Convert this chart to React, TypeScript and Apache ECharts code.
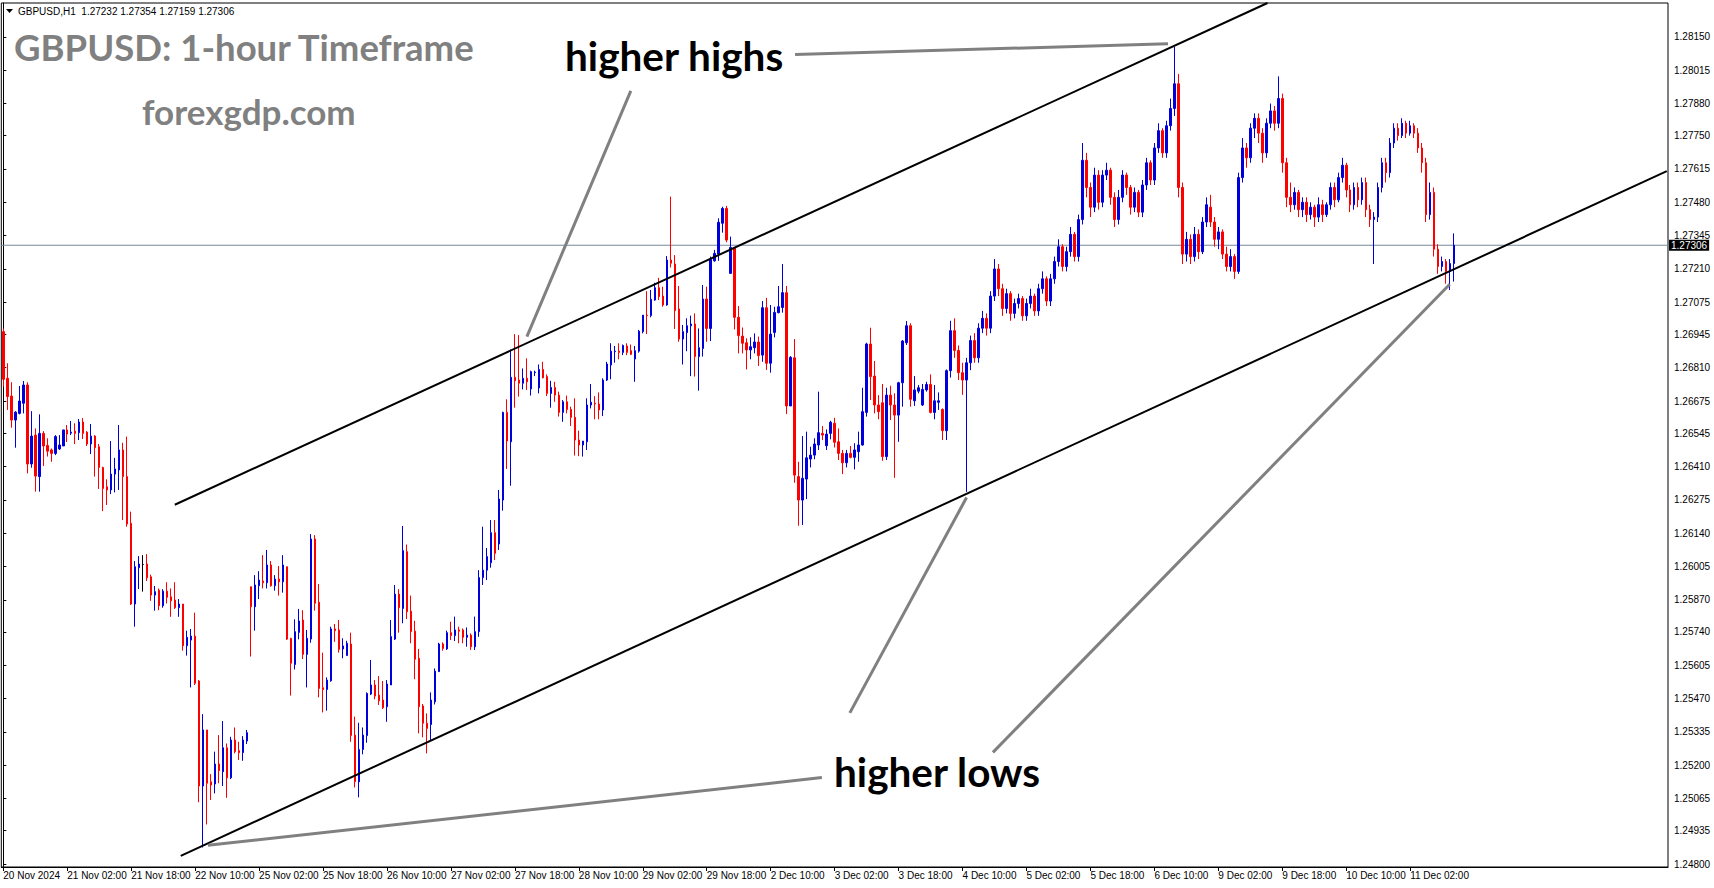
import React, { useEffect, useRef } from "react";
import * as echarts from "echarts";

// GBPUSD H1 bars, one row per hour: [open, high, low, close]
const WEEK_NOV20: number[][] = [
  [1.26956,1.26969,1.26733,1.26763],[1.26767,1.26828,1.26639,1.26693],[1.26695,1.26751,1.26567,1.26598],[1.26598,1.26634,1.26486,1.26630],
  [1.26625,1.26736,1.26621,1.26675],[1.26666,1.26756,1.26625,1.26740],[1.26740,1.26751,1.26382,1.26420],[1.26420,1.26634,1.26405,1.26533],
  [1.26537,1.26564,1.26308,1.26371],[1.26369,1.26621,1.26308,1.26544],[1.26544,1.26553,1.26412,1.26493],[1.26495,1.26524,1.26450,1.26472],
  [1.26477,1.26483,1.26429,1.26463],[1.26463,1.26537,1.26456,1.26531],[1.26481,1.26537,1.26477,1.26497],[1.26493,1.26558,1.26493,1.26558],
  [1.26558,1.26578,1.26509,1.26541],[1.26545,1.26594,1.26537,1.26549],[1.26553,1.26585,1.26501,1.26544],[1.26547,1.26602,1.26517,1.26590],
  [1.26590,1.26606,1.26521,1.26544],[1.26549,1.26553,1.26493,1.26501],[1.26501,1.26582,1.26460,1.26533],[1.26533,1.26537,1.26369,1.26486],
  [1.26490,1.26501,1.26319,1.26406],[1.26406,1.26409,1.26229,1.26321],[1.26328,1.26358,1.26254,1.26315],[1.26315,1.26513,1.26298,1.26379],
  [1.26379,1.26445,1.26305,1.26400],[1.26396,1.26578,1.26315,1.26477],[1.26477,1.26506,1.26193,1.26369],[1.26369,1.26531,1.26166,1.26177],
  [1.26180,1.26227,1.25849,1.25853],[1.25853,1.26027,1.25761,1.26004],[1.26000,1.26047,1.25914,1.26015],[1.26013,1.26051,1.25903,1.26013],
  [1.26015,1.26055,1.25946,1.25959],[1.25963,1.25972,1.25866,1.25889],[1.25889,1.25926,1.25826,1.25903],[1.25909,1.25916,1.25828,1.25846],
  [1.25846,1.25913,1.25838,1.25905],[1.25905,1.25941,1.25855,1.25880],[1.25882,1.25916,1.25801,1.25866],[1.25869,1.25941,1.25833,1.25838],
  [1.25838,1.25873,1.25801,1.25853],[1.25853,1.25853,1.25664,1.25684],[1.25684,1.25745,1.25644,1.25718],[1.25707,1.25752,1.25515,1.25723],
  [1.25723,1.25818,1.25525,1.25532],[1.25541,1.25545,1.25050,1.25116],[1.25116,1.25407,1.24867,1.25343],[1.25343,1.25343,1.24960,1.25127],
  [1.25133,1.25164,1.25059,1.25120],[1.25124,1.25255,1.25086,1.25205],[1.25205,1.25322,1.25127,1.25178],[1.25174,1.25379,1.25116,1.25271],
  [1.25271,1.25288,1.25068,1.25149],[1.25149,1.25315,1.25144,1.25302],[1.25302,1.25353,1.25248,1.25255],[1.25259,1.25295,1.25221,1.25251],
  [1.25251,1.25318,1.25218,1.25302],[1.25298,1.25343,1.25286,1.25332],
];

const WEEK_NOV25: number[][] = [
  [1.25923,1.25923,1.25640,1.25842],[1.25842,1.25970,1.25745,1.25930],[1.25927,1.25986,1.25873,1.25950],[1.25946,1.26051,1.25916,1.25939],
  [1.25939,1.26072,1.25916,1.26011],[1.26011,1.26027,1.25923,1.25927],[1.25927,1.25970,1.25907,1.25954],[1.25954,1.26007,1.25887,1.25943],
  [1.25943,1.26051,1.25899,1.26011],[1.26004,1.26004,1.25707,1.25711],[1.25714,1.25716,1.25482,1.25613],[1.25608,1.25791,1.25588,1.25741],
  [1.25738,1.25833,1.25710,1.25784],[1.25788,1.25828,1.25630,1.25649],[1.25649,1.25748,1.25515,1.25714],[1.25711,1.26136,1.25696,1.26116],
  [1.26116,1.26132,1.25826,1.25856],[1.25860,1.25934,1.25475,1.25511],[1.25514,1.25656,1.25414,1.25507],[1.25507,1.25556,1.25421,1.25545],
  [1.25542,1.25761,1.25538,1.25752],[1.25752,1.25772,1.25700,1.25745],[1.25748,1.25788,1.25656,1.25669],[1.25671,1.25714,1.25633,1.25683],
  [1.25644,1.25704,1.25644,1.25694],[1.25691,1.25737,1.25295,1.25320],[1.25322,1.25397,1.25110,1.25133],[1.25133,1.25372,1.25070,1.25264],
  [1.25264,1.25353,1.25244,1.25322],[1.25320,1.25495,1.25291,1.25491],[1.25488,1.25626,1.25484,1.25525],[1.25525,1.25545,1.25467,1.25480],
  [1.25484,1.25561,1.25444,1.25461],[1.25464,1.25541,1.25428,1.25433],[1.25437,1.25545,1.25376,1.25529],[1.25525,1.25788,1.25525,1.25721],
  [1.25711,1.25930,1.25707,1.25893],[1.25893,1.25913,1.25737,1.25838],[1.25835,1.26169,1.25775,1.26069],[1.26065,1.26094,1.25792,1.25822],
  [1.25824,1.25887,1.25694,1.25741],[1.25743,1.25785,1.25548,1.25629],[1.25633,1.25671,1.25329,1.25437],[1.25440,1.25448,1.25313,1.25370],
  [1.25370,1.25410,1.25248,1.25349],[1.25365,1.25495,1.25298,1.25464],[1.25457,1.25592,1.25446,1.25581],[1.25579,1.25696,1.25579,1.25691],
  [1.25691,1.25698,1.25664,1.25673],[1.25671,1.25745,1.25667,1.25737],[1.25737,1.25781,1.25707,1.25725],[1.25725,1.25802,1.25703,1.25748],
  [1.25748,1.25761,1.25694,1.25743],[1.25748,1.25754,1.25694,1.25718],[1.25718,1.25758,1.25680,1.25727],[1.25727,1.25734,1.25667,1.25680],
  [1.25680,1.25802,1.25667,1.25741],[1.25741,1.25990,1.25720,1.25960],[1.25960,1.26166,1.25930,1.25990],[1.25990,1.26080,1.25950,1.26045],
  [1.26020,1.26193,1.26000,1.26142],[1.26142,1.26193,1.26031,1.26058],[1.26096,1.26315,1.26072,1.26278],[1.26274,1.26632,1.26231,1.26629],
  [1.26629,1.26682,1.26400,1.26513],[1.26510,1.26884,1.26332,1.26771],[1.26771,1.26946,1.26648,1.26757],[1.26760,1.26942,1.26693,1.26747],
  [1.26747,1.26807,1.26722,1.26767],[1.26767,1.26848,1.26720,1.26753],[1.26724,1.26798,1.26697,1.26794],[1.26790,1.26798,1.26776,1.26792],
  [1.26728,1.26823,1.26706,1.26803],[1.26803,1.26834,1.26767,1.26769],[1.26774,1.26783,1.26695,1.26706],[1.26706,1.26757,1.26648,1.26730],
  [1.26730,1.26753,1.26672,1.26699],[1.26699,1.26713,1.26612,1.26629],[1.26629,1.26679,1.26591,1.26672],[1.26672,1.26697,1.26625,1.26641],
  [1.26641,1.26652,1.26574,1.26609],[1.26609,1.26686,1.26454,1.26517],[1.26517,1.26555,1.26452,1.26497],[1.26497,1.26513,1.26450,1.26513],
  [1.26510,1.26686,1.26477,1.26659],[1.26659,1.26744,1.26645,1.26670],[1.26666,1.26695,1.26601,1.26663],[1.26663,1.26710,1.26601,1.26639],
  [1.26639,1.26767,1.26614,1.26760],[1.26760,1.26834,1.26756,1.26825],[1.26821,1.26909,1.26763,1.26877],[1.26875,1.26898,1.26830,1.26877],
  [1.26877,1.26909,1.26844,1.26872],[1.26872,1.26904,1.26861,1.26900],[1.26898,1.26909,1.26861,1.26872],[1.26879,1.26904,1.26861,1.26864],
  [1.26845,1.26898,1.26753,1.26879],[1.26877,1.26963,1.26871,1.26958],[1.26956,1.27023,1.26949,1.27023],[1.27023,1.27120,1.26946,1.27021],
  [1.27021,1.27125,1.27014,1.27087],[1.27084,1.27154,1.27081,1.27134],[1.27134,1.27174,1.27084,1.27098],[1.27100,1.27138,1.27057,1.27064],
  [1.27064,1.27262,1.27061,1.27246],[1.27246,1.27503,1.27216,1.27233],[1.27230,1.27266,1.26967,1.27041],[1.27048,1.27141,1.26915,1.26926],
  [1.26926,1.26983,1.26823,1.26956],[1.26952,1.27010,1.26877,1.26980],[1.26980,1.27021,1.26776,1.26987],[1.26987,1.27030,1.26774,1.26855],
  [1.26855,1.26969,1.26717,1.26891],[1.26888,1.27145,1.26855,1.27088],[1.27088,1.27138,1.26915,1.26969],[1.26969,1.27260,1.26918,1.27249],
  [1.27243,1.27287,1.27239,1.27273],[1.27270,1.27415,1.27243,1.27399],[1.27395,1.27462,1.27357,1.27455],[1.27455,1.27465,1.27318,1.27327],
];

const WEEK_DEC02: number[][] = [
  [1.27192,1.27341,1.27192,1.27297],[1.27297,1.27297,1.26965,1.27014],[1.27014,1.27060,1.26868,1.26940],[1.26938,1.26973,1.26868,1.26909],
  [1.26911,1.26929,1.26803,1.26882],[1.26882,1.26933,1.26844,1.26895],[1.26891,1.26949,1.26868,1.26914],[1.26914,1.26936,1.26817,1.26859],
  [1.26861,1.27080,1.26834,1.27053],[1.27053,1.27093,1.26801,1.26828],[1.26828,1.27064,1.26790,1.26946],[1.26953,1.27057,1.26933,1.27034],
  [1.27033,1.27141,1.27030,1.27057],[1.27054,1.27230,1.27033,1.27114],[1.27114,1.27141,1.26622,1.26655],[1.26655,1.26857,1.26655,1.26852],
  [1.26850,1.26926,1.26344,1.26375],[1.26369,1.26429,1.26170,1.26274],[1.26274,1.26533,1.26173,1.26362],[1.26359,1.26551,1.26278,1.26445],
  [1.26440,1.26490,1.26406,1.26456],[1.26456,1.26524,1.26439,1.26501],[1.26497,1.26713,1.26477,1.26547],[1.26544,1.26574,1.26517,1.26537],
  [1.26494,1.26560,1.26477,1.26541],[1.26544,1.26595,1.26520,1.26589],[1.26585,1.26607,1.26487,1.26508],[1.26510,1.26564,1.26436,1.26463],
  [1.26463,1.26477,1.26379,1.26425],[1.26425,1.26477,1.26406,1.26463],[1.26463,1.26493,1.26443,1.26447],[1.26447,1.26504,1.26398,1.26477],
  [1.26470,1.26551,1.26429,1.26497],[1.26497,1.26729,1.26494,1.26632],[1.26629,1.26911,1.26612,1.26906],[1.26906,1.26972,1.26679,1.26774],
  [1.26776,1.26837,1.26625,1.26659],[1.26659,1.26699,1.26601,1.26632],[1.26668,1.26744,1.26433,1.26450],[1.26450,1.26729,1.26436,1.26699],
  [1.26699,1.26737,1.26598,1.26659],[1.26659,1.26706,1.26364,1.26618],[1.26618,1.26753,1.26510,1.26749],[1.26749,1.26922,1.26652,1.26918],
  [1.26911,1.26999,1.26902,1.26980],[1.26980,1.26990,1.26652,1.26682],[1.26676,1.26776,1.26655,1.26720],[1.26715,1.26740,1.26706,1.26729],
  [1.26659,1.26744,1.26655,1.26722],[1.26720,1.26753,1.26713,1.26742],[1.26742,1.26783,1.26625,1.26629],[1.26629,1.26740,1.26601,1.26676],
  [1.26670,1.26710,1.26639,1.26676],[1.26641,1.26645,1.26517,1.26555],[1.26555,1.26803,1.26517,1.26798],[1.26798,1.27000,1.26770,1.26960],
  [1.26960,1.27010,1.26850,1.26880],[1.26880,1.26900,1.26760,1.26790],[1.26790,1.26830,1.26700,1.26760],[1.26760,1.26850,1.26307,1.26830],
  [1.26830,1.26940,1.26800,1.26920],[1.26920,1.26950,1.26830,1.26850],[1.26850,1.26990,1.26830,1.26970],[1.26970,1.27040,1.26950,1.27010],
  [1.27010,1.27030,1.26940,1.26970],[1.26970,1.27120,1.26950,1.27100],[1.27100,1.27250,1.27080,1.27210],[1.27210,1.27230,1.27100,1.27130],
  [1.27130,1.27150,1.27020,1.27050],[1.27050,1.27130,1.27030,1.27110],[1.27110,1.27120,1.27000,1.27030],[1.27030,1.27090,1.27010,1.27070],
  [1.27070,1.27110,1.27050,1.27090],[1.27090,1.27100,1.27000,1.27020],[1.27020,1.27090,1.27000,1.27070],[1.27070,1.27130,1.27050,1.27100],
  [1.27100,1.27110,1.27020,1.27040],[1.27040,1.27150,1.27020,1.27130],[1.27130,1.27200,1.27110,1.27170],[1.27170,1.27180,1.27060,1.27080],
  [1.27080,1.27190,1.27060,1.27170],[1.27170,1.27260,1.27150,1.27240],[1.27240,1.27330,1.27220,1.27300],[1.27300,1.27310,1.27200,1.27220],
  [1.27220,1.27300,1.27200,1.27280],[1.27280,1.27380,1.27260,1.27350],[1.27350,1.27360,1.27240,1.27260],[1.27260,1.27430,1.27240,1.27410],
  [1.27410,1.27720,1.27390,1.27650],[1.27650,1.27680,1.27500,1.27540],[1.27540,1.27560,1.27420,1.27460],[1.27460,1.27620,1.27440,1.27590],
  [1.27590,1.27610,1.27450,1.27480],[1.27480,1.27610,1.27460,1.27590],[1.27590,1.27640,1.27570,1.27610],[1.27610,1.27620,1.27470,1.27500],
  [1.27500,1.27520,1.27380,1.27410],[1.27410,1.27530,1.27390,1.27500],[1.27500,1.27610,1.27480,1.27590],[1.27590,1.27600,1.27510,1.27540],
  [1.27540,1.27550,1.27430,1.27460],[1.27460,1.27540,1.27440,1.27520],[1.27520,1.27530,1.27420,1.27440],[1.27440,1.27570,1.27420,1.27550],
  [1.27550,1.27660,1.27530,1.27640],[1.27640,1.27650,1.27550,1.27570],[1.27570,1.27720,1.27550,1.27700],[1.27700,1.27800,1.27680,1.27770],
  [1.27770,1.27780,1.27660,1.27680],[1.27680,1.27810,1.27660,1.27790],[1.27790,1.27900,1.27770,1.27860],[1.27860,1.28110,1.27830,1.27960],
  [1.27960,1.28000,1.27500,1.27540],[1.27540,1.27560,1.27230,1.27270],[1.27270,1.27360,1.27240,1.27330],[1.27330,1.27350,1.27230,1.27260],
  [1.27260,1.27380,1.27240,1.27350],[1.27350,1.27370,1.27250,1.27280],[1.27280,1.27420,1.27270,1.27400],[1.27400,1.27500,1.27380,1.27470],
];

const WEEK_DEC09: number[][] = [
  [1.27460,1.27510,1.27380,1.27400],[1.27400,1.27420,1.27300,1.27330],[1.27330,1.27380,1.27290,1.27360],[1.27360,1.27370,1.27250,1.27270],
  [1.27270,1.27300,1.27200,1.27220],[1.27220,1.27290,1.27200,1.27260],[1.27260,1.27270,1.27170,1.27200],[1.27200,1.27600,1.27190,1.27580],
  [1.27580,1.27740,1.27560,1.27700],[1.27700,1.27720,1.27620,1.27660],[1.27660,1.27800,1.27640,1.27780],[1.27780,1.27840,1.27740,1.27820],
  [1.27820,1.27840,1.27720,1.27760],[1.27760,1.27780,1.27640,1.27680],[1.27680,1.27820,1.27660,1.27800],[1.27800,1.27880,1.27780,1.27850],
  [1.27850,1.27870,1.27770,1.27800],[1.27800,1.27990,1.27780,1.27900],[1.27900,1.27920,1.27600,1.27640],[1.27640,1.27660,1.27460,1.27500],
  [1.27500,1.27560,1.27440,1.27470],[1.27470,1.27540,1.27450,1.27520],[1.27520,1.27530,1.27420,1.27450],[1.27450,1.27500,1.27420,1.27480],
  [1.27480,1.27500,1.27400,1.27430],[1.27430,1.27480,1.27410,1.27460],[1.27460,1.27470,1.27380,1.27420],[1.27420,1.27500,1.27400,1.27470],
  [1.27470,1.27490,1.27400,1.27430],[1.27430,1.27480,1.27420,1.27470],[1.27470,1.27560,1.27450,1.27540],[1.27540,1.27560,1.27460,1.27490],
  [1.27490,1.27600,1.27480,1.27580],[1.27580,1.27660,1.27560,1.27630],[1.27630,1.27640,1.27500,1.27530],[1.27530,1.27550,1.27440,1.27470],
  [1.27470,1.27560,1.27450,1.27540],[1.27540,1.27560,1.27460,1.27490],[1.27490,1.27580,1.27470,1.27560],[1.27560,1.27580,1.27420,1.27450],
  [1.27450,1.27470,1.27380,1.27410],[1.27410,1.27440,1.27230,1.27420],[1.27420,1.27560,1.27400,1.27540],[1.27540,1.27660,1.27520,1.27640],
  [1.27640,1.27660,1.27560,1.27600],[1.27600,1.27740,1.27580,1.27720],[1.27720,1.27800,1.27700,1.27780],[1.27780,1.27800,1.27730,1.27750],
  [1.27750,1.27820,1.27740,1.27800],[1.27800,1.27810,1.27740,1.27760],[1.27760,1.27810,1.27750,1.27790],[1.27790,1.27800,1.27740,1.27760],
  [1.27760,1.27780,1.27680,1.27700],[1.27700,1.27720,1.27600,1.27640],[1.27640,1.27660,1.27400,1.27430],[1.27430,1.27560,1.27410,1.27520],
  [1.27520,1.27540,1.27260,1.27290],[1.27290,1.27310,1.27190,1.27220],[1.27220,1.27260,1.27200,1.27240],[1.27240,1.27250,1.27150,1.27200],
  [1.27200,1.27250,1.27125,1.27232],[1.27232,1.27354,1.27159,1.27306],
];

const SYMBOL = "GBPUSD,H1";
const LAST_BAR = [1.27232, 1.27354, 1.27159, 1.27306];
const BID = 1.27306;

const PRICE_TICKS = [
  "1.24800","1.24935","1.25065","1.25200","1.25335","1.25470","1.25605","1.25740","1.25870",
  "1.26005","1.26140","1.26275","1.26410","1.26545","1.26675","1.26810","1.26945","1.27075",
  "1.27210","1.27345","1.27480","1.27615","1.27750","1.27880","1.28015","1.28150",
];
const TIME_TICKS = [
  "20 Nov 2024","21 Nov 02:00","21 Nov 18:00","22 Nov 10:00","25 Nov 02:00","25 Nov 18:00",
  "26 Nov 10:00","27 Nov 02:00","27 Nov 18:00","28 Nov 10:00","29 Nov 02:00","29 Nov 18:00",
  "2 Dec 10:00","3 Dec 02:00","3 Dec 18:00","4 Dec 10:00","5 Dec 02:00","5 Dec 18:00",
  "6 Dec 10:00","9 Dec 02:00","9 Dec 18:00","10 Dec 10:00","11 Dec 02:00",
];
const BARS_PER_TICK = 16;
const SLOTS = 417;
const PRICE_MIN = 1.2478785;
const PRICE_MAX = 1.2828705;

// Trend lines as [bar position, price] pairs
const UPPER_CHANNEL = [[42.9, 1.26255], [316.3, 1.28287]];
const LOWER_CHANNEL = [[44.4, 1.24833], [416.2, 1.27606]];
const HIGHER_HIGH_POINTERS = [
  [[198.1, 1.28078], [291.4, 1.28122]],
  [[157.0, 1.27931], [131.0, 1.26936]],
];
const HIGHER_LOW_POINTERS = [
  [[211.8, 1.25412], [241.0, 1.26284]],
  [[247.6, 1.25252], [361.9, 1.27148]],
  [[204.8, 1.25150], [51.2, 1.24876]],
];

const SMALL_FONT = '"Liberation Sans", Arial, sans-serif';
const BIG_FONT = 'Lato, "Open Sans", sans-serif';

export default function App() {
  const ref = useRef<HTMLDivElement>(null);

  useEffect(() => {
    if (!ref.current) return;
    const chart = echarts.init(ref.current, null, { renderer: "svg" });

    const bars = [...WEEK_NOV20, ...WEEK_NOV25, ...WEEK_DEC02, ...WEEK_DEC09];
    // ECharts candlestick order: [open, close, low, high]
    const candles = bars.map(([o, h, l, c]) => [o, c, l, h]);
    const categories = Array.from({ length: SLOTS }, (_, i) => String(i));
    const tickShown = (i: number) => i % BARS_PER_TICK === 0 && i / BARS_PER_TICK < TIME_TICKS.length;
    const priceValues = PRICE_TICKS.map(Number);

    const trend = (pts: number[][], color: string, width: number) => ({
      type: "line",
      xAxisIndex: 1,
      yAxisIndex: 0,
      data: pts,
      symbol: "none",
      silent: true,
      z: 5,
      lineStyle: { color, width },
    });

    chart.setOption({
      animation: false,
      backgroundColor: "#ffffff",
      grid: {
        left: 1.3, top: 3, right: 46, bottom: 21,
        show: true, borderColor: "#000", borderWidth: 1, backgroundColor: "transparent",
      },
      xAxis: [
        {
          type: "category",
          data: categories,
          boundaryGap: true,
          axisLine: { lineStyle: { color: "#000", width: 1 } },
          axisTick: { show: true, interval: (i: number) => tickShown(i), alignWithLabel: true, length: 4, lineStyle: { color: "#000" } },
          axisLabel: {
            interval: (i: number) => tickShown(i),
            formatter: (_v: string, i: number) => TIME_TICKS[i / BARS_PER_TICK] ?? "",
            align: "left",
            color: "#000",
            fontSize: 10,
            fontFamily: SMALL_FONT,
            margin: 3,
          },
          splitLine: { show: false },
        },
        { type: "value", min: -0.5, max: SLOTS - 0.5, show: false },
      ],
      yAxis: {
        type: "value",
        position: "right",
        min: PRICE_MIN,
        max: PRICE_MAX,
        splitLine: { show: false },
        axisLine: { show: true, lineStyle: { color: "#000", width: 1 } },
        axisTick: { show: true, inside: false, length: 3, customValues: priceValues, lineStyle: { color: "#000" } },
        axisLabel: {
          customValues: priceValues,
          formatter: (v: number) => v.toFixed(5),
          color: "#000",
          fontSize: 10,
          fontFamily: SMALL_FONT,
          margin: 6,
        },
      },
      series: [
        // bid price line with its price tag on the axis
        {
          type: "line",
          xAxisIndex: 1,
          yAxisIndex: 0,
          data: [[-0.5, BID], [SLOTS - 0.5, BID]],
          symbol: "none",
          silent: true,
          z: 1,
          lineStyle: { color: "#778899", width: 1 },
          endLabel: {
            show: true,
            distance: 1,
            formatter: () => BID.toFixed(5),
            backgroundColor: "#000",
            color: "#fff",
            padding: [1, 2, 0, 2],
            fontSize: 10,
            fontFamily: SMALL_FONT,
          },
        },
        {
          type: "candlestick",
          xAxisIndex: 0,
          yAxisIndex: 0,
          data: candles,
          barWidth: 2,
          z: 3,
          itemStyle: {
            color: "#0000dd",
            color0: "#ff0000",
            borderColor: "#0000dd",
            borderColor0: "#ff0000",
            borderColorDoji: "#000000",
            borderWidth: 1,
          },
        },
        trend(UPPER_CHANNEL, "#000", 2),
        trend(LOWER_CHANNEL, "#000", 2),
        ...HIGHER_HIGH_POINTERS.map((p) => trend(p, "#808080", 3)),
        ...HIGHER_LOW_POINTERS.map((p) => trend(p, "#808080", 3)),
      ],
      graphic: [
        { type: "polygon", shape: { points: [[6, 9], [13, 9], [9.5, 13]] }, style: { fill: "#000" } },
        {
          type: "text", x: 18, y: 11,
          style: {
            text: `${SYMBOL}  ${LAST_BAR.map((v) => v.toFixed(5)).join(" ")}`,
            fill: "#000", font: `10px ${SMALL_FONT}`, textVerticalAlign: "middle",
          },
        },
        {
          type: "text", x: 14, y: 47,
          style: { text: "GBPUSD: 1-hour Timeframe", fill: "#808080", font: `bold 36.5px ${BIG_FONT}`, textVerticalAlign: "middle" },
        },
        {
          type: "text", x: 142, y: 111,
          style: { text: "forexgdp.com", fill: "#808080", font: `bold 35px ${BIG_FONT}`, textVerticalAlign: "middle" },
        },
        {
          type: "text", x: 565, y: 55, z: 10,
          style: { text: "higher highs", fill: "#000", font: `bold 40.5px ${BIG_FONT}`, textVerticalAlign: "middle" },
        },
        {
          type: "text", x: 834, y: 771, z: 10,
          style: { text: "higher lows", fill: "#000", font: `bold 40.5px ${BIG_FONT}`, textVerticalAlign: "middle" },
        },
      ],
    });

    return () => chart.dispose();
  }, []);

  return (
    <div
      ref={ref}
      style={{ position: "absolute", left: 0, top: 0, width: 1714, height: 888, background: "#fff" }}
    />
  );
}
